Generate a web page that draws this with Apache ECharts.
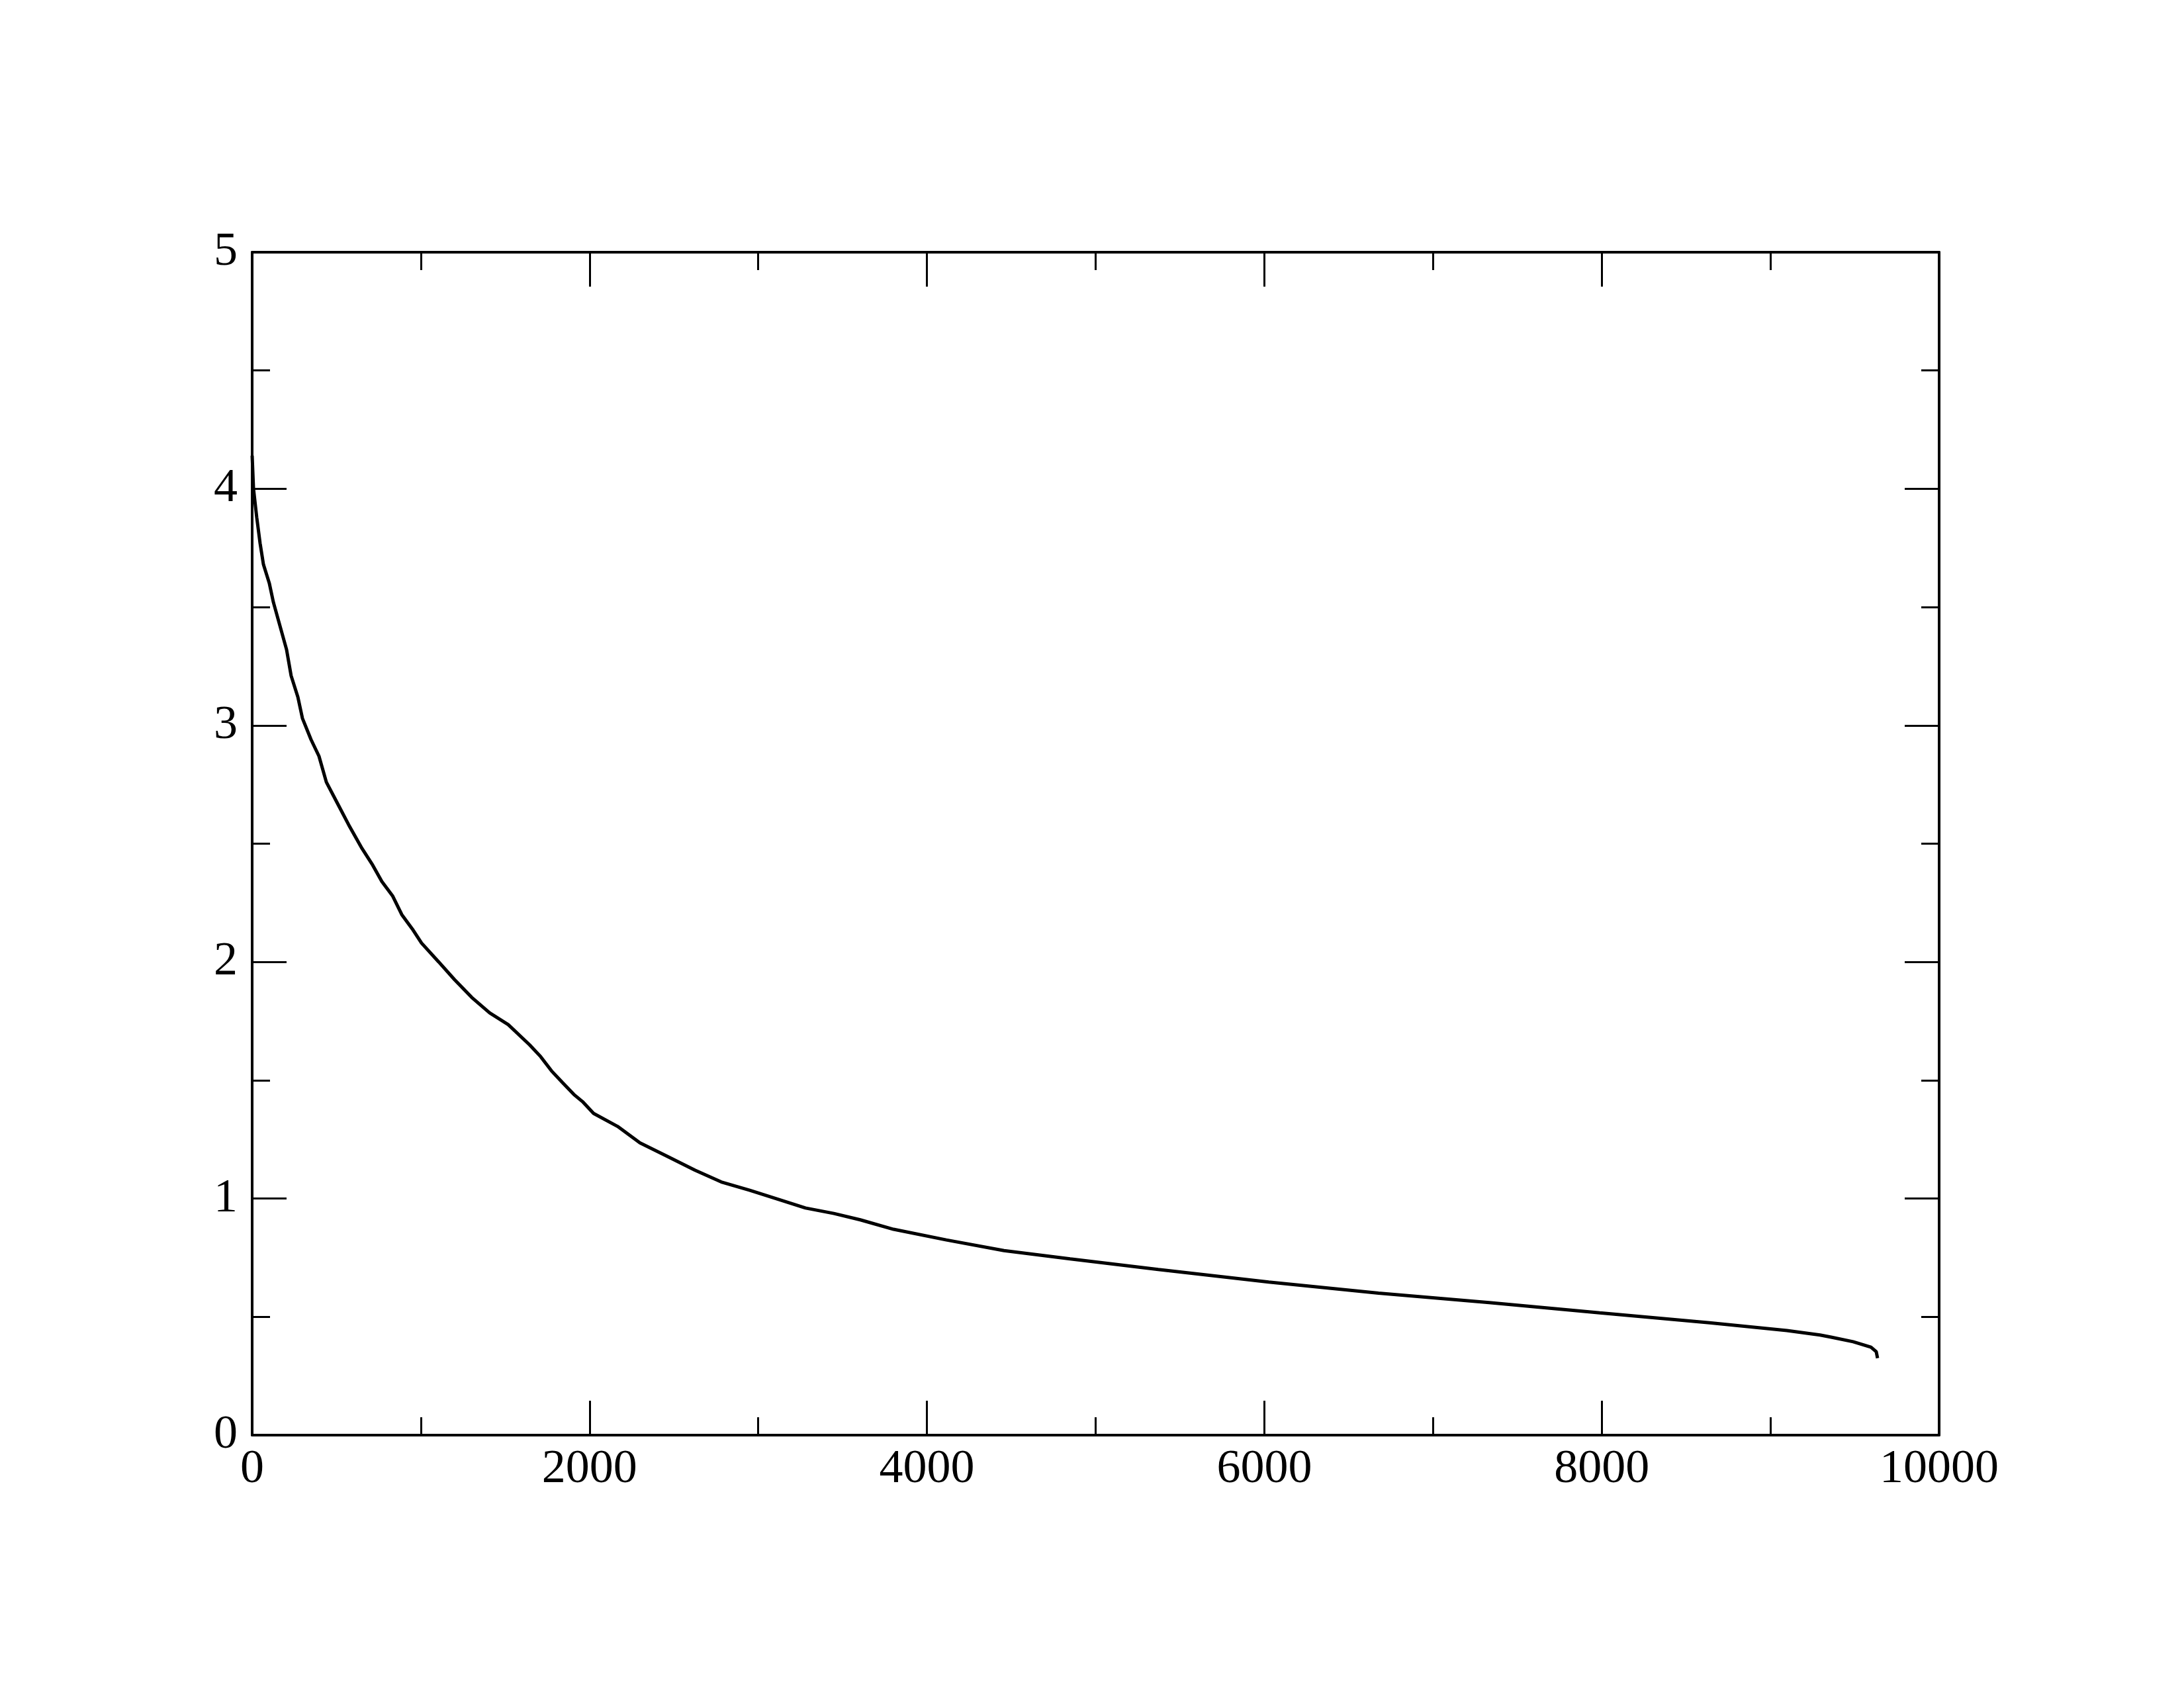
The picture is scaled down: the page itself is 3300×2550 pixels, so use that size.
<!DOCTYPE html>
<html>
<head>
<meta charset="utf-8">
<script src="https://cdn.jsdelivr.net/npm/echarts@6/dist/echarts.min.js"></script>
<style>
  html, body { margin: 0; padding: 0; background: #fff; }
  #chart { width: 3300px; height: 2550px; }
</style>
</head>
<body>
<div id="chart"></div>
<script>
// values
const xValues = [0, 8, 27, 47, 67, 102, 126, 165, 204, 231, 271, 298, 349, 396, 440, 506, 572, 651, 714, 769,
  832, 887, 949, 1004, 1106, 1200, 1302, 1408, 1518, 1644, 1710, 1774, 1840, 1907, 1958, 2024, 2166, 2299, 2456, 2625,
  2781, 2950, 3123, 3280, 3448, 3605, 3802, 4115, 4457, 4849, 5371, 6026, 6677, 7332, 7988, 8639, 9098, 9294, 9360, 9490,
  9596, 9627, 9635];
const yValues = [4.14, 4.0, 3.88, 3.77, 3.68, 3.60, 3.52, 3.42, 3.32, 3.21, 3.12, 3.03, 2.94, 2.87, 2.76, 2.67, 2.58, 2.48, 2.41, 2.34,
  2.28, 2.20, 2.14, 2.08, 2.00, 1.925, 1.85, 1.785, 1.735, 1.65, 1.60, 1.54, 1.49, 1.44, 1.41, 1.36, 1.305, 1.235, 1.18, 1.12,
  1.07, 1.035, 0.996, 0.96, 0.937, 0.91, 0.87, 0.825, 0.78, 0.745, 0.70, 0.647, 0.60, 0.56, 0.517, 0.475, 0.442, 0.423, 0.414, 0.395,
  0.372, 0.353, 0.325];
const xTicks = [0, 2000, 4000, 6000, 8000, 10000];
const yTicks = [0, 1, 2, 3, 4, 5];

const seriesData = xValues.map((x, i) => [x, yValues[i]]);

const font = 'Liberation Serif';
const lineCol = '#000';

// shared axis look: frame line, inward ticks, minor ticks
function frameAxis(extra) {
  return Object.assign({
    type: 'value',
    axisLine: { show: true, onZero: false, lineStyle: { color: lineCol, width: 4 } },
    axisTick: { show: true, inside: true, length: 52, lineStyle: { color: lineCol, width: 3 } },
    minorTick: { show: true, splitNumber: 2, length: 27, lineStyle: { color: lineCol, width: 3 } },
    splitLine: { show: false },
    axisLabel: { show: false }
  }, extra);
}

const labelStyle = {
  show: true, color: '#000', fontFamily: font, fontSize: 72,
  formatter: v => String(v)
};

const option = {
  backgroundColor: '#fff',
  animation: false,
  grid: { left: 381, top: 381, width: 2549, height: 1787 },
  xAxis: [
    frameAxis({ position: 'bottom', min: xTicks[0], max: xTicks[xTicks.length - 1], interval: 2000,
      axisLabel: Object.assign({ margin: 16 }, labelStyle) }),
    frameAxis({ position: 'top', min: xTicks[0], max: xTicks[xTicks.length - 1], interval: 2000 })
  ],
  yAxis: [
    frameAxis({ position: 'left', min: yTicks[0], max: yTicks[yTicks.length - 1], interval: 1,
      axisLabel: Object.assign({ margin: 22 }, labelStyle) }),
    frameAxis({ position: 'right', min: yTicks[0], max: yTicks[yTicks.length - 1], interval: 1 })
  ],
  series: [{
    type: 'line',
    xAxisIndex: 0,
    yAxisIndex: 0,
    data: seriesData,
    showSymbol: false,
    smooth: false,
    lineStyle: { color: '#000', width: 5 }
  }]
};

echarts.init(document.getElementById('chart')).setOption(option);
</script>
</body>
</html>
